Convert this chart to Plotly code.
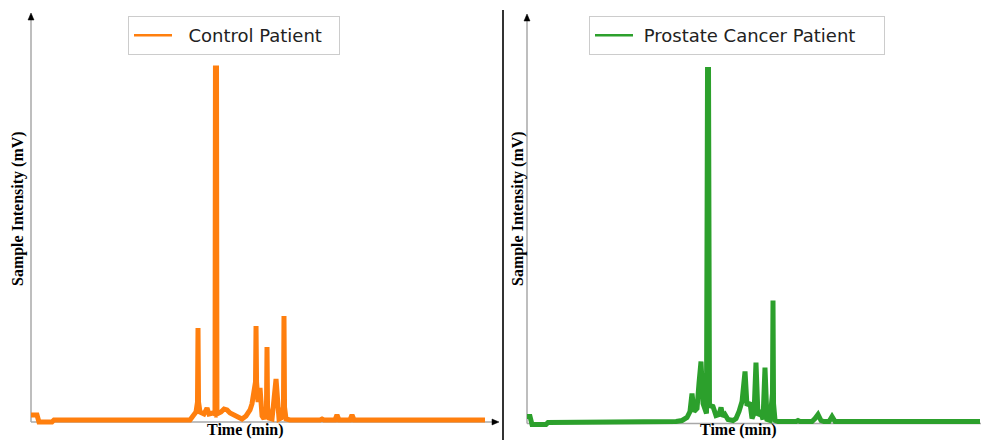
import plotly.graph_objects as go

W, H = 989, 440

# ---------------- data ----------------
control_time = [0.00, 0.80, 1.06, 2.79, 3.06, 21.15, 21.55, 21.95, 22.15, 22.22, 22.29,
                22.49, 23.02, 23.42, 23.68, 24.22, 24.48, 24.54, 24.68, 24.74, 25.28,
                25.68, 26.08, 26.48, 27.01, 27.54, 28.07, 28.61, 29.14, 29.40, 29.67,
                29.87, 29.94, 30.01, 30.21, 30.47, 30.74, 31.00, 31.33, 31.40, 31.47,
                31.67, 32.07, 32.60, 33.00, 33.26, 33.59, 33.66, 33.73, 33.93, 34.46,
                38.45, 38.72, 38.98, 40.45, 40.71, 40.98, 42.44, 42.71, 42.98, 60.40]
control_mv = [14, 14, 0, 0, 4, 4, 12, 20, 40, 188, 40,
              20, 16, 28, 16, 18, 16, 708, 708, 16, 20,
              26, 24, 18, 14, 10, 6, 12, 24, 36, 60,
              80, 192, 80, 40, 68, 12, 6, 30, 150, 30,
              8, 6, 86, 6, 8, 30, 212, 30, 6, 4,
              4, 6, 4, 4, 14, 4, 4, 14, 4, 4]

cancer_time = [0.00, 0.40, 0.67, 2.53, 2.80, 19.07, 19.87, 20.67, 21.33, 21.73,
               22.00, 22.27, 22.67, 22.93, 23.20, 23.47, 23.93, 24.07, 24.20, 24.33,
               24.80, 25.20, 25.60, 25.87, 26.13, 26.40, 26.80, 27.47, 27.87, 28.27,
               28.67, 29.07, 29.33, 29.73, 30.00, 30.27, 30.53, 30.80, 31.20, 31.47,
               31.73, 32.00, 32.40, 32.73, 32.80, 32.87, 33.07, 33.47, 35.87, 36.13,
               36.40, 38.00, 38.40, 38.80, 39.20, 39.60, 40.27, 40.67, 41.07, 60.40]
cancer_mv = [14, 14, -2, -2, 2, 2, 4, 6, 12, 24,
             60, 24, 30, 80, 124, 40, 20, 708, 708, 36,
             34, 16, 18, 32, 14, 18, 8, 6, 10, 24,
             44, 104, 36, 42, 10, 20, 122, 16, 22, 8,
             112, 8, 6, 60, 246, 40, 6, 4, 4, 6,
             4, 4, 10, 18, 6, 4, 4, 14, 4, 4]

series_names = ["Control Patient", "Prostate Cancer Patient"]
series_colors = ["#ff7f0e", "#2ca02c"]
x_title = "Time (min)"
y_title = "Sample Intensity (mV)"

# ---------------- helpers (page pixel -> paper; page has 8px body margin) ----------------
OFF = 8


def px(x):
    return (x - OFF) / W


def py(y):
    return 1 - (y - OFF) / H


fig = go.Figure()

fig.add_trace(go.Scatter(x=control_time, y=control_mv, mode="lines",
                         name=series_names[0], xaxis="x", yaxis="y", showlegend=False,
                         line=dict(color=series_colors[0], width=5)))
fig.add_trace(go.Scatter(x=cancer_time, y=cancer_mv, mode="lines",
                         name=series_names[1], xaxis="x2", yaxis="y2", showlegend=False,
                         line=dict(color=series_colors[1], width=5)))
# legend entries (thin sample line like the reference)
fig.add_trace(go.Scatter(x=[None], y=[None], mode="lines", xaxis="x", yaxis="y",
                         name="&nbsp;&nbsp;" + series_names[0] + "&nbsp;&nbsp;",
                         line=dict(color=series_colors[0], width=2.5),
                         legend="legend", showlegend=True))
fig.add_trace(go.Scatter(x=[None], y=[None], mode="lines", xaxis="x2", yaxis="y2",
                         name="&nbsp;" + series_names[1] + "&nbsp;&nbsp;&nbsp;&nbsp;",
                         line=dict(color=series_colors[1], width=2.5),
                         legend="legend2", showlegend=True))

axis_common = dict(showgrid=False, zeroline=False, showline=False,
                   showticklabels=False, ticks="", fixedrange=True)

legend_common = dict(xanchor="left", yanchor="top",
                     bordercolor="#cccccc", borderwidth=1, bgcolor="white",
                     font=dict(family="DejaVu Sans", size=18, color="#222222"),
                     itemwidth=38)

fig.update_layout(
    width=W, height=H,
    showlegend=True,
    margin=dict(l=0, r=0, t=0, b=0),
    paper_bgcolor="white", plot_bgcolor="rgba(0,0,0,0)",
    xaxis=dict(domain=[px(27), px(497)], range=[-4 / 7.516, 62], anchor="y", **axis_common),
    yaxis=dict(domain=[py(432), py(10)], range=[-20, 824], anchor="x", **axis_common),
    xaxis2=dict(domain=[px(523), 1.0], range=[-4 / 7.5, (997 - 527) / 7.5], anchor="y2",
                **axis_common),
    yaxis2=dict(domain=[py(432), py(10)], range=[-17, 827], anchor="x2", **axis_common),
    legend=dict(x=px(128), y=py(16), **legend_common),
    legend2=dict(x=px(589), y=py(16), **legend_common),
)

shapes = []
gray = "#a8a8a8"
# left axes
shapes.append(dict(type="line", xref="paper", yref="paper", x0=px(31), x1=px(31),
                   y0=py(422), y1=py(18), line=dict(color=gray, width=1.5), layer="below"))
shapes.append(dict(type="line", xref="paper", yref="paper", x0=px(31), x1=px(494),
                   y0=py(422), y1=py(422), line=dict(color=gray, width=1.5), layer="below"))
# right axes
shapes.append(dict(type="line", xref="paper", yref="paper", x0=px(527), x1=px(527),
                   y0=py(423.5), y1=py(18), line=dict(color=gray, width=1.5), layer="below"))
shapes.append(dict(type="line", xref="paper", yref="paper", x0=px(527), x1=1.0,
                   y0=py(423.5), y1=py(423.5), line=dict(color=gray, width=1.5), layer="below"))
# divider
shapes.append(dict(type="line", xref="paper", yref="paper", x0=px(503), x1=px(503),
                   y0=py(10), y1=0, line=dict(color="#333333", width=2)))


def tri(points):
    p = "M " + " L ".join(f"{px(a)},{py(b)}" for a, b in points) + " Z"
    return dict(type="path", xref="paper", yref="paper", path=p,
                fillcolor="black", line=dict(color="black", width=0.5))


shapes.append(tri([(31, 13), (28, 20), (34, 20)]))
shapes.append(tri([(527, 14), (524, 21), (530, 21)]))
shapes.append(tri([(499, 422), (492, 419), (492, 425)]))
fig.update_layout(shapes=shapes)

xt_font = dict(family="Liberation Serif", size=16, color="black")
yt_font = dict(family="Liberation Serif", size=16, color="black")
ann_common = dict(xref="paper", yref="paper", showarrow=False,
                  xanchor="center", yanchor="middle")
annotations = [
    dict(text=f"<b>{x_title}</b>", x=px(245), y=py(430), font=xt_font, **ann_common),
    dict(text=f"<b>{x_title}</b>", x=px(738), y=py(430), font=xt_font, **ann_common),
    dict(text=f"<b>{y_title}</b>", x=px(18), y=py(209), textangle=-90, font=yt_font,
         **ann_common),
    dict(text=f"<b>{y_title}</b>", x=px(518), y=py(209), textangle=-90, font=yt_font,
         **ann_common),
]
fig.update_layout(annotations=annotations)

fig.write_html("out.html")
